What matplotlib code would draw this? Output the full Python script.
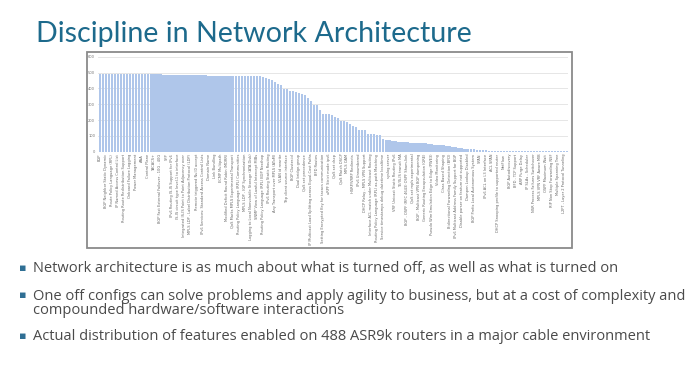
import matplotlib
matplotlib.use("Agg")
import matplotlib.pyplot as plt
from matplotlib.patches import Rectangle

TITLE = "Discipline in Network Architecture"
BULLETS = [
    "Network architecture is as much about what is turned off, as well as what is turned on",
    "One off configs can solve problems and apply agility to business, but at a cost of complexity and\n"
    "compounded hardware/software interactions",
    "Actual distribution of features enabled on 488 ASR9k routers in a major cable environment",
]

# routers with each feature enabled, sorted (two bars per visible label)
ROUTER_COUNTS = [
    488, 488, 488, 488, 488, 488, 488, 488, 488, 488, 488, 488, 488, 488, 488, 488, 488, 488, 488, 488, 488,
    485, 485, 485, 485, 485, 485, 485, 485, 485, 485, 485, 485, 485, 485, 485,
    481, 481, 481, 481, 481, 481, 481, 481, 481, 481, 481,
    476, 476, 476, 476, 476, 476, 476,
    470, 466, 458, 452, 440, 428, 422, 398, 394, 385, 382, 378, 370, 365, 360,
    340, 322, 298, 292, 262, 240, 237, 235, 232, 218, 212, 195, 191, 188, 172,
    160, 155, 140, 137, 135, 113, 111, 110, 108, 107,
    78, 75, 72, 69, 67, 64, 62, 60, 59, 58, 57, 56, 54, 53, 52, 50,
    47, 45, 44, 42, 40, 38, 35, 32, 29, 26, 23, 20, 17, 15, 14, 13,
    11, 9, 8, 7, 6,
    5, 5, 4, 4, 4, 4, 4, 4, 4, 3, 3, 3, 3, 3, 3, 3, 3, 3, 2, 2, 2, 2, 2, 2, 2,
]

FEATURE_LABELS = [
    "BGP", "BGP Neighbor Static Dynamic", "Route Policy Language (RPL)", "IP Named Access Control List",
    "Routing Route Redistribution Support", "Onboard Failure Logging", "Power Management", "AAA",
    "Control Plane", "TACACS+", "BGP Fast External Failover - 10G - 40G", "SFP",
    "IPv6 Routing IS-IS Support for IPv6", "IS-IS circuit type level-1 to interface",
    "Integrated IS-IS Point to Point Adjacency over", "MPLS LDP - Label Distribution Protocol (LDP)",
    "Remote triggered Null0 accept", "IPv6 Services: Standard Access Control Lists", "Domain Name",
    "Link Bundling", "ECMP Multipath", "Modified Deficit Round Robin (MDRR)",
    "QoS Marks MPLS Experimental Transport", "Routing Policy Language (RPL) Communities",
    "MPLS LDP - IGP Synchronization", "Logging to Local Nonvolatile Storage (ATA Disk)",
    "SNMP View of Lawful Intercept MIBs", "Routing Policy Language (RPL) BGP Nexthop",
    "IPv6 Routing Static Routing", "Any Transport over MPLS (AToM)", "VLAN id rewrite",
    "Tftp client source interface", "BGP Cluster-id", "Dual bridge-group", "QoS set precedence",
    "IP Multicast Load Splitting across Equal-Cost Paths", "BFD Routes",
    "Setting Encrypted Key for tacacs communication", "uRPF Strict mode ipv6", "QoS set dscp",
    "QoS Match DSCP", "MPLS OAM", "HSRP/VRRP Redirects", "IPv6 Unnumbered",
    "DHCP Relay - MPLS VPN Support", "Interface ACL match under Multicast Routing",
    "Routing Policy Language (RPL) as-path Matching", "Service timestamps debug datetime localtime",
    "syslog server", "VRF Unicast Static Routing IPv6", "TE/IS-IS transit MA",
    "BGP - OSPF (RFC 4643) OSPF Sham-link", "QoS set mpls experimental",
    "BGP - Multicast VPN BGP dampening", "Generic Routing Encapsulation (GRE)",
    "Pseudo Wire Emulation Edge to Edge (PWE3)", "Video Monitoring", "Class Based Shaping",
    "Bidirectional Forwarding Detection (BFD)", "IPv6 Multicast Address Family Support for BGP",
    "Disable parser on feature not supported", "Dampen Lookup Disabled",
    "BGP Prefix Local Autonomous System", "SPAN", "IPv6 ACL on L3 Interface", "ACL SPAN",
    "DHCP Snooping profile to supported router", "NetFlow", "BGP Autodiscovery", "BFD - TCP Support",
    "ARP Purge Delay", "IP SLAs - Scheduler", "NSR Process Failures Switchover",
    "MPLS VPN VRF Aware MIB", "OSPF Maximum Wait", "RIP Non Stop Forwarding NSF",
    "Multiple Spanning Tree", "L2PT - Layer 2 Protocol Tunneling",
]

W, H = 698, 365
fig = plt.figure(figsize=(W / 100, H / 100), dpi=100)
fig.patch.set_facecolor("white")

fig.text(36 / W, 1 - 42 / H, TITLE, fontsize=20.6, color="#1d6a8c", family="Lato", va="baseline")

# chart frame
fig.patches.append(Rectangle((87 / W, 1 - 248 / H), 485 / W, 196 / H, transform=fig.transFigure,
                             fill=False, edgecolor="#8a8a8a", linewidth=1.3))

ax = fig.add_axes([98 / W, 1 - 151.7 / H, 470 / W, 95 / H])
x = list(range(len(ROUTER_COUNTS)))
ax.bar(x, ROUTER_COUNTS, width=0.78, color="#afc6ea", zorder=2)
ax.set_xlim(-0.7, len(ROUTER_COUNTS) - 0.7)
ax.set_ylim(0, 600)
ax.set_yticks(range(0, 601, 100))
ax.tick_params(axis="y", labelsize=2.6, labelcolor="#777777", length=0, pad=2)
ax.set_xticks(x[::2])
ax.set_xticklabels(FEATURE_LABELS, rotation=90, fontsize=2.6, color="#666666")
ax.tick_params(axis="x", length=0, pad=1.5)
ax.grid(True, axis="y", color="#e2e2e2", linewidth=0.6, zorder=0)
for s in ax.spines.values():
    s.set_visible(False)
ax.set_facecolor("none")

# first-line baselines of the bullets
ys = [272, 299, 340]
for y, txt in zip(ys, BULLETS):
    fig.text(19 / W, 1 - (y - 1) / H, "\u25aa", fontsize=8, color="#2f6f94", va="baseline")
    fig.text(33 / W, 1 - (y - 10.5) / H, txt, fontsize=10.5, color="#4a4a4a", family="Open Sans",
             va="top", linespacing=0.92)

fig.savefig("out.png", dpi=100)
